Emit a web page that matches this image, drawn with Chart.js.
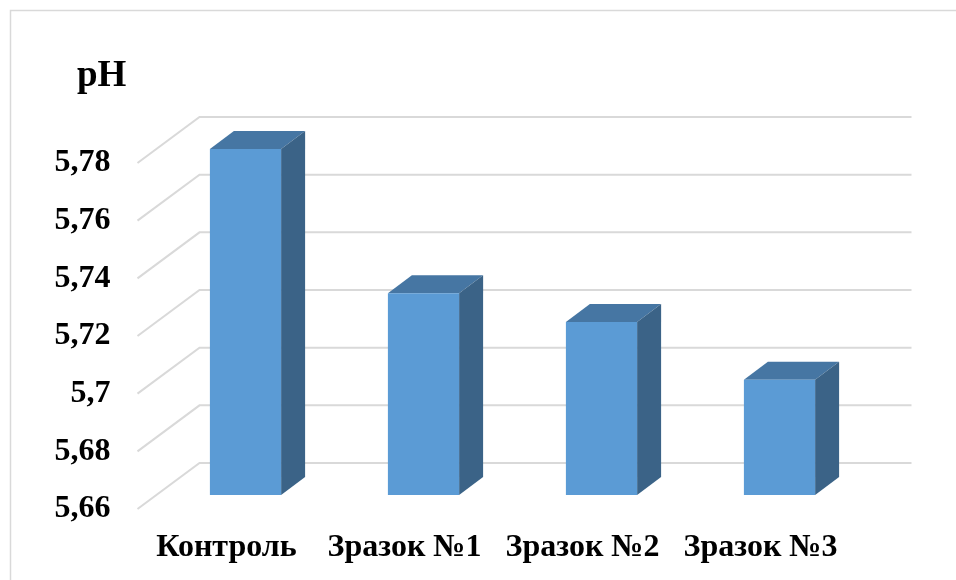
<!DOCTYPE html>
<html>
<head>
<meta charset="utf-8">
<script src="https://cdn.jsdelivr.net/npm/chart.js@4"></script>
<style>
html,body{margin:0;padding:0;background:#fff;}
#wrap{width:956px;height:580px;position:relative;}
</style>
</head>
<body>
<div id="wrap"><canvas id="c" width="956" height="580"></canvas></div>
<script>
const categories = ['Контроль', 'Зразок №1', 'Зразок №2', 'Зразок №3'];
const phValues = [5.78, 5.73, 5.72, 5.70];
const yTickValues = [5.66, 5.68, 5.70, 5.72, 5.74, 5.76, 5.78];
const yTickLabels = ['5,66', '5,68', '5,7', '5,72', '5,74', '5,76', '5,78'];
const axisTitle = 'pH';

const FONT = "'Liberation Serif', 'Times New Roman', serif";
const DEPTH_X = 62, DEPTH_Y = 46;      // full floor depth
const BAR_SHIFT_X = 19, BAR_SHIFT_Y = 14; // front of bar behind label plane
const BAR_DX = 24, BAR_DY = 18;        // bar depth

const framePlugin = {
  id: 'frame',
  beforeDraw(chart) {
    const ctx = chart.ctx;
    ctx.save();
    ctx.fillStyle = '#fff';
    ctx.fillRect(0, 0, chart.width, chart.height);
    ctx.strokeStyle = '#d9d9d9';
    ctx.lineWidth = 1.5;
    ctx.beginPath();
    ctx.moveTo(10.5, chart.height);
    ctx.lineTo(10.5, 10.5);
    ctx.lineTo(chart.width, 10.5);
    ctx.stroke();
    ctx.fillStyle = '#000';
    ctx.font = 'bold 37px ' + FONT;
    ctx.textBaseline = 'alphabetic';
    ctx.textAlign = 'left';
    ctx.fillText(axisTitle, 77, 86);
    ctx.restore();
  }
};

const gridPlugin = {
  id: 'grid3d',
  beforeDatasetsDraw(chart) {
    const ctx = chart.ctx, ys = chart.scales.y, a = chart.chartArea;
    ctx.save();
    ctx.strokeStyle = '#d9d9d9';
    ctx.lineWidth = 2;
    yTickValues.forEach(v => {
      const y = ys.getPixelForValue(v);
      ctx.beginPath();
      ctx.moveTo(a.left, y);
      ctx.lineTo(a.left + DEPTH_X, y - DEPTH_Y);
      ctx.lineTo(a.right + DEPTH_X, y - DEPTH_Y);
      ctx.stroke();
    });
    ctx.restore();
    ctx.save();
    ctx.translate(BAR_SHIFT_X, -BAR_SHIFT_Y);
    const meta = chart.getDatasetMeta(0);
    meta.data.forEach(bar => {
      const p = bar.getProps(['x', 'y', 'base', 'width'], true);
      const l = p.x - p.width / 2, r = p.x + p.width / 2, t = p.y, b = p.base;
      ctx.fillStyle = '#4676a3';
      ctx.beginPath();
      ctx.moveTo(l, t);
      ctx.lineTo(l + BAR_DX, t - BAR_DY);
      ctx.lineTo(r + BAR_DX, t - BAR_DY);
      ctx.lineTo(r, t);
      ctx.closePath();
      ctx.fill();
      ctx.fillStyle = '#3b6387';
      ctx.beginPath();
      ctx.moveTo(r, t);
      ctx.lineTo(r + BAR_DX, t - BAR_DY);
      ctx.lineTo(r + BAR_DX, b - BAR_DY);
      ctx.lineTo(r, b);
      ctx.closePath();
      ctx.fill();
    });
  },
  afterDatasetsDraw(chart) {
    chart.ctx.restore();
  }
};

new Chart(document.getElementById('c'), {
  type: 'bar',
  data: {
    labels: categories,
    datasets: [{
      data: phValues,
      base: yTickValues[0],
      backgroundColor: '#5b9bd5',
      borderWidth: 0,
      categoryPercentage: 1,
      barPercentage: 0.4,
      clip: false
    }]
  },
  options: {
    responsive: false,
    animation: false,
    events: [],
    layout: { padding: { left: 0, right: 106.5, top: 163, bottom: 0 } },
    plugins: { legend: { display: false }, tooltip: { enabled: false }, title: { display: false } },
    scales: {
      x: {
        grid: { display: false, drawTicks: false },
        border: { display: false },
        ticks: { color: '#000', font: { family: FONT, size: 32, weight: 'bold' }, padding: 20, maxRotation: 0, autoSkip: false },
        afterFit(s) { s.height = 71; }
      },
      y: {
        min: 5.66,
        max: 5.78,
        grid: { display: false, drawTicks: false },
        border: { display: false },
        afterBuildTicks(s) { s.ticks = yTickValues.map(v => ({ value: v })); },
        ticks: {
          color: '#000',
          font: { family: FONT, size: 32, weight: 'bold' },
          padding: 27,
          callback: (v, i) => yTickLabels[i]
        },
        afterFit(s) { s.width = 137.5; }
      }
    }
  },
  plugins: [framePlugin, gridPlugin]
});
</script>
</body>
</html>
